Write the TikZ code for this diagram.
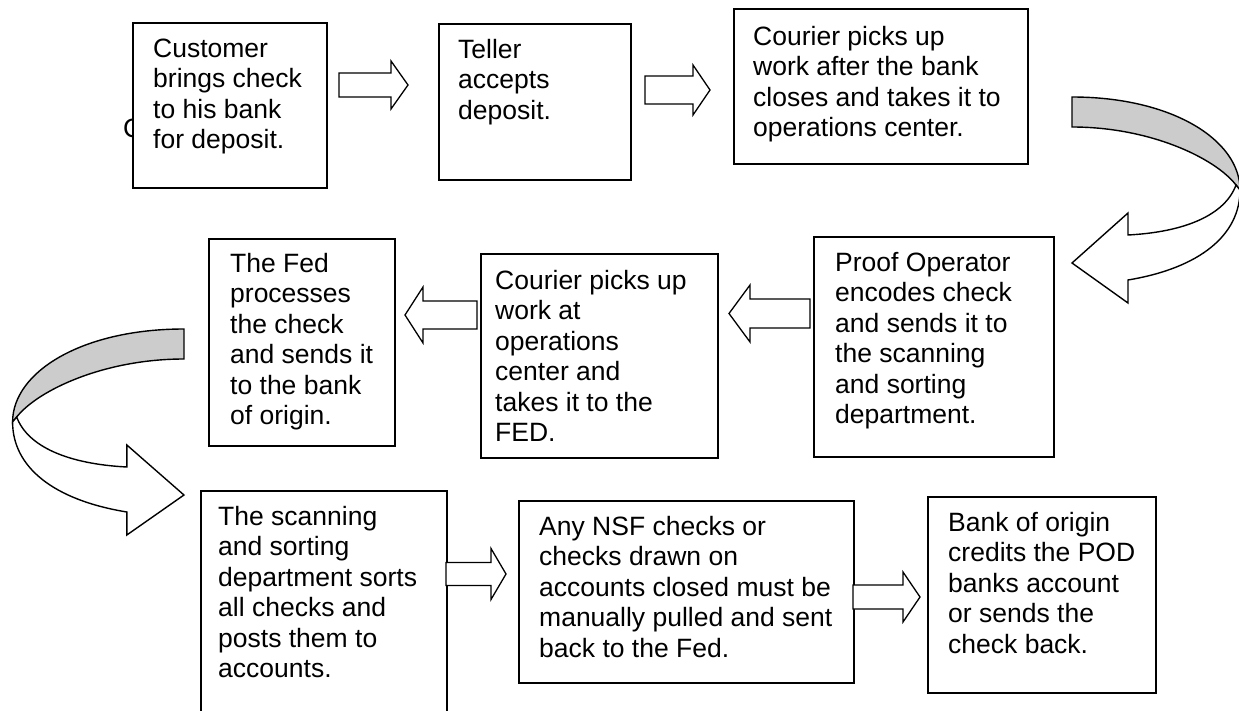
\documentclass[tikz,border=0pt]{standalone}
\usepackage{fontspec}
\setmainfont{Liberation Sans}
\usetikzlibrary{calc}
\newcommand\blockarrow[5]{%
  \draw[barrow] let \p1=(#1), \p2=(#2), \n1={sign(\x2-\x1)} in
   ({\x1},{\y1+#3}) -- ({\x2-\n1*#5},{\y1+#3}) -- ({\x2-\n1*#5},{\y1+#4}) -- (\x2,\y2)
   -- ({\x2-\n1*#5},{\y1-#4}) -- ({\x2-\n1*#5},{\y1-#3}) -- ({\x1},{\y1-#3}) -- cycle;}
\newcommand\curvarrow{%
  \path[back] (1072,97) .. controls (1172,97) and (1240,140) .. (1240,190)
     -- (1236,185) .. controls (1215,158) and (1150,127) .. (1072,127) -- cycle;
  \path[front] (1236,185) .. controls (1225,215) and (1185,232) .. (1128,235)
     -- (1128,213) -- (1072,263) -- (1128,303) -- (1128,280)
     .. controls (1200,268) and (1240,235) .. (1240,190) -- cycle;}
\begin{document}
\begin{tikzpicture}[x=1pt,y=-1pt,
  box/.style={draw=black, line width=1.8pt, fill=white, anchor=north west, inner sep=0pt},
  txt/.style={anchor=north west, inner sep=0pt, align=left, font=\fontsize{26.5}{30.5}\selectfont},
  barrow/.style={draw=black, line width=1.3pt, fill=white, line join=miter},
  back/.style={draw=black, line width=1.4pt, fill=black!20},
  front/.style={draw=black, line width=1.4pt, fill=white}]
\useasboundingbox (0,0) rectangle (1239,711);
\fill[white] (0,0) rectangle (1239,711);

% stray letter partly hidden behind the first box
\node[anchor=base west, inner sep=0pt, font=\fontsize{26.5}{30.5}\selectfont] (cstray) at (123,138) {C};

% boxes
\node[box, minimum width=194pt, minimum height=165pt] (b1) at (132,22) {};
\node[box, minimum width=192pt, minimum height=156pt] (b2) at (438,23) {};
\node[box, minimum width=294pt, minimum height=155pt] (b3) at (733,8) {};
\node[box, minimum width=240pt, minimum height=220pt] (b4) at (813,236) {};
\node[box, minimum width=237pt, minimum height=204pt] (b5) at (480,253) {};
\node[box, minimum width=186pt, minimum height=207pt] (b6) at (208,238) {};
\node[box, minimum width=246pt, minimum height=240pt] (b7) at (200,490) {};
\node[box, minimum width=335pt, minimum height=182pt] (b8) at (518,500) {};
\node[box, minimum width=228pt, minimum height=196pt] (b9) at (927,496) {};

% texts (first baseline = y + 21.35)
\node[txt] (t1) at (153,35.65) {\strut Customer\\brings check\\to his bank\\for deposit.};
\node[txt] (t2) at (458,36.65) {\strut Teller\\accepts\\deposit.};
\node[txt] (t3) at (753,23.65) {\strut Courier picks up\\work after the bank\\closes and takes it to\\operations center.};
\node[txt] (t4) at (835,249.65) {\strut Proof Operator\\encodes check\\and sends it to\\the scanning\\and sorting\\department.};
\node[txt] (t5) at (495,267.65) {\strut Courier picks up\\work at\\operations\\center and\\takes it to the\\FED.};
\node[txt] (t6) at (230,250.65) {\strut The Fed\\processes\\the check\\and sends it\\to the bank\\of origin.};
\node[txt] (t7) at (218,503.65) {\strut The scanning\\and sorting\\department sorts\\all checks and\\posts them to\\accounts.};
\node[txt] (t8) at (539,513.65) {\strut Any NSF checks or\\checks drawn on\\accounts closed must be\\manually pulled and sent\\back to the Fed.};
\node[txt] (t9) at (948,509.65) {\strut Bank of origin\\credits the POD\\banks account\\or sends the\\check back.};

% block arrow end points
\coordinate (a1s) at (339,85);  \coordinate (a1e) at (408,85);
\coordinate (a2s) at (645,90);  \coordinate (a2e) at (710,90);
\coordinate (a3s) at (810,313.5); \coordinate (a3e) at (729,313.5);
\coordinate (a4s) at (477,315); \coordinate (a4e) at (405,315);
\coordinate (a5s) at (446,574); \coordinate (a5e) at (506,574);
\coordinate (a6s) at (853,597); \coordinate (a6e) at (920,597);

\blockarrow{a1s}{a1e}{12pt}{24pt}{17pt}
\blockarrow{a2s}{a2e}{14pt}{25pt}{17pt}
\blockarrow{a3s}{a3e}{14.5pt}{28.5pt}{21pt}
\blockarrow{a4s}{a4e}{14pt}{28pt}{18pt}
\blockarrow{a5s}{a5e}{11.5pt}{25.5pt}{15pt}
\blockarrow{a6s}{a6e}{12pt}{25pt}{17pt}

% curved arrows
\curvarrow
\begin{scope}[shift={(1277.4,232)}, xscale=-1.02]
  \curvarrow
\end{scope}
\end{tikzpicture}
\end{document}
